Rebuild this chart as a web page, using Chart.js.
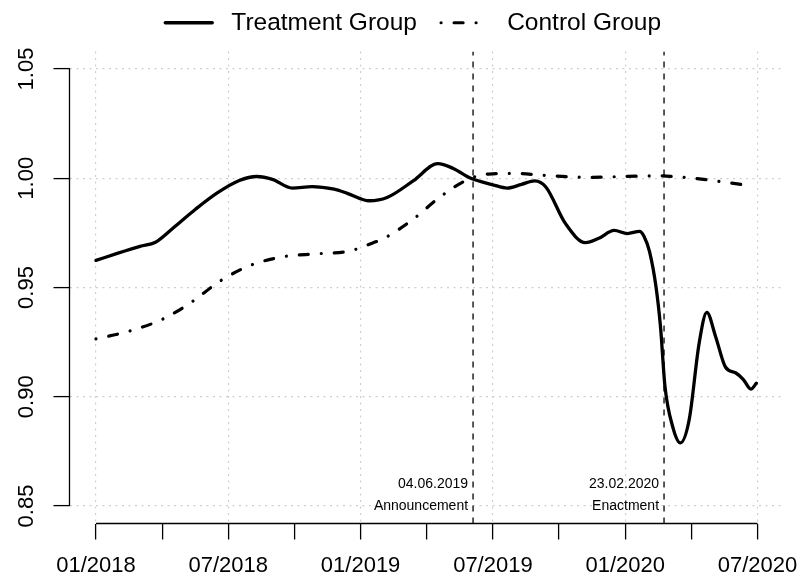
<!DOCTYPE html>
<html>
<head>
<meta charset="utf-8">
<script src="https://cdn.jsdelivr.net/npm/chart.js@4"></script>
<style>
  html, body { margin: 0; padding: 0; background: #fff; }
</style>
</head>
<body>
<canvas id="chart" width="806" height="582"></canvas>
<script>
// months since 01/2018
const tickMonths = [0, 3, 6, 9, 12, 15, 18, 21, 24, 27, 30];
const tickLabels = ['01/2018', '', '07/2018', '', '01/2019', '', '07/2019', '', '01/2020', '', '07/2020'];
const yTicks = [0.85, 0.90, 0.95, 1.00, 1.05];

const treatMonths = [0, 1, 2, 2.7, 3.5, 4.5, 5.5, 6.5, 7.3, 8.0, 8.9, 9.8, 10.8, 11.4, 12.4, 13.2, 14.4, 15.5, 16.2, 17.0,
  18.0, 18.65, 19.3, 19.9, 20.4, 21.3, 22.2, 22.8, 23.5, 24.1, 24.65, 24.85, 25.1, 25.4, 25.6, 25.8, 26.15, 26.5, 26.9,
  27.35, 27.7, 28.1, 28.55, 29.0, 29.35, 29.7, 29.95];
const treatValues = [0.9624, 0.9657, 0.9688, 0.9707, 0.9772, 0.9857, 0.9933, 0.9990, 1.0008, 0.9995, 0.9955, 0.9962, 0.9950, 0.9931, 0.9897, 0.9912, 0.9989, 1.0067, 1.0045, 1.0000,
  0.9970, 0.9955, 0.9972, 0.9988, 0.9960, 0.9791, 0.9705, 0.9725, 0.9761, 0.9747, 0.9757, 0.9735, 0.9665, 0.9500, 0.9320, 0.9050, 0.8864, 0.8789, 0.8895,
  0.9244, 0.9386, 0.9275, 0.9135, 0.9110, 0.9080, 0.9035, 0.9062];

const ctrlMonths = [0, 1.5, 3.0, 4.35, 5.6, 7.0, 8.5, 10.0, 11.5, 12.4, 13.1, 14.4, 15.6, 16.9, 17.8, 19.0, 20.5, 22.4, 23.9, 25.5, 27.0, 28.5, 29.5];
const ctrlValues = [0.9265, 0.9300, 0.9354, 0.9434, 0.9528, 0.9601, 0.9641, 0.9654, 0.9667, 0.9698, 0.9727, 0.9814, 0.9914, 0.9996, 1.0019, 1.0022, 1.0012, 1.0004, 1.0008, 1.0011, 1.0001, 0.9982, 0.9968];

const eventMonths = [17.1, 25.76];
const eventDates = ['04.06.2019', '23.02.2020'];
const eventNames = ['Announcement', 'Enactment'];
const eventDateY = 0.86;
const eventNameY = 0.85;

const yMin = 0.842, yMax = 1.058;

Chart.defaults.font.family = '"Liberation Sans", Arial, Helvetica, sans-serif';
Chart.defaults.color = '#000';

const toPoints = (xs, ys) => xs.map((m, i) => ({ x: m, y: ys[i] }));
const eventLine = m => [{ x: m, y: yMin }, { x: m, y: yMax }];

// R style axis lines: only from first to last tick
const axisLines = {
  id: 'axisLines',
  afterDraw(chart) {
    const { ctx, chartArea, scales: { x, y } } = chart;
    ctx.save();
    ctx.strokeStyle = '#000';
    ctx.lineWidth = 1.3;
    ctx.beginPath();
    ctx.moveTo(chartArea.left, y.getPixelForValue(yTicks[0]));
    ctx.lineTo(chartArea.left, y.getPixelForValue(yTicks[yTicks.length - 1]));
    ctx.moveTo(x.getPixelForValue(tickMonths[0]), chartArea.bottom);
    ctx.lineTo(x.getPixelForValue(tickMonths[tickMonths.length - 1]), chartArea.bottom);
    ctx.stroke();
    ctx.restore();
  }
};

const eventLabels = {
  id: 'eventLabels',
  afterDatasetsDraw(chart) {
    const { ctx, scales: { x, y } } = chart;
    ctx.save();
    ctx.font = '14px "Liberation Sans", Arial, sans-serif';
    ctx.fillStyle = '#000';
    ctx.textAlign = 'right';
    ctx.textBaseline = 'middle';
    eventMonths.forEach((m, i) => {
      const px = x.getPixelForValue(m) - 5;
      ctx.fillText(eventDates[i], px, y.getPixelForValue(eventDateY));
      ctx.fillText(eventNames[i], px, y.getPixelForValue(eventNameY));
    });
    ctx.restore();
  }
};

const gridStyle = {
  color: '#cfcfcf',
  lineWidth: 1.2,
  tickColor: '#000',
  tickWidth: 1.3,
  tickLength: 16,
  tickBorderDash: []
};

new Chart(document.getElementById('chart'), {
  type: 'line',
  data: {
    datasets: [
      {
        label: ' Treatment Group  ',
        data: toPoints(treatMonths, treatValues),
        borderColor: '#000',
        borderWidth: 3.3,
        borderCapStyle: 'round',
        borderJoinStyle: 'round',
        pointRadius: 0,
        cubicInterpolationMode: 'monotone',
        fill: false
      },
      {
        label: ' Control Group    ',
        data: toPoints(ctrlMonths, ctrlValues),
        borderColor: '#000',
        borderWidth: 3.2,
        borderDash: [0.01, 13, 9, 13],
        borderCapStyle: 'round',
        pointRadius: 0,
        cubicInterpolationMode: 'monotone',
        fill: false
      },
      {
        label: 'announcement',
        data: eventLine(eventMonths[0]),
        borderColor: '#000',
        borderWidth: 1.3,
        borderDash: [6, 6],
        pointRadius: 0
      },
      {
        label: 'enactment',
        data: eventLine(eventMonths[1]),
        borderColor: '#000',
        borderWidth: 1.3,
        borderDash: [6, 6],
        pointRadius: 0
      }
    ]
  },
  options: {
    responsive: false,
    animation: false,
    events: [],
    layout: { padding: { left: 0, right: 22, top: 0, bottom: 0 } },
    plugins: {
      tooltip: { enabled: false },
      title: { display: true, text: '', weight: 500, padding: 0, font: { size: 6.5, lineHeight: 1 } },
      legend: {
        position: 'top',
        fullSize: false,
        labels: {
          usePointStyle: true,
          pointStyleWidth: 47,
          padding: 10.5,
          color: '#000',
          font: { size: 24.5 },
          generateLabels: chart => chart.data.datasets.slice(0, 2).map((ds, i) => ({
            text: ds.label,
            datasetIndex: i,
            fillStyle: ds.borderColor,
            strokeStyle: ds.borderColor,
            lineWidth: ds.borderWidth,
            lineDash: ds.borderDash || [],
            lineCap: ds.borderCapStyle,
            pointStyle: 'line',
            fontColor: '#000'
          }))
        }
      }
    },
    scales: {
      x: {
        type: 'linear',
        min: -1.2,
        max: 31.2,
        afterBuildTicks: s => { s.ticks = tickMonths.map(v => ({ value: v })); },
        afterFit: s => { s.height = 58.5; },
        border: { display: false, dash: [2, 4.5] },
        grid: Object.assign({}, gridStyle, {
          color: c => (c.index % 2 === 0 ? '#cfcfcf' : 'rgba(0,0,0,0)')
        }),
        ticks: {
          autoSkip: false,
          maxRotation: 0,
          minRotation: 0,
          padding: 6.5,
          color: '#000',
          font: { size: 22, lineHeight: 1.8 },
          callback: (v, i) => tickLabels[i]
        }
      },
      y: {
        min: yMin,
        max: yMax,
        afterBuildTicks: s => { s.ticks = yTicks.map(v => ({ value: v })); },
        afterFit: s => { s.width = 69.5; },
        border: { display: false, dash: [2, 4.5] },
        grid: gridStyle,
        ticks: {
          autoSkip: false,
          minRotation: 90,
          maxRotation: 90,
          crossAlign: 'center',
          padding: 5.6,
          color: '#000',
          font: { size: 22 },
          callback: v => v.toFixed(2)
        }
      }
    }
  },
  plugins: [axisLines, eventLabels]
});
</script>
</body>
</html>
